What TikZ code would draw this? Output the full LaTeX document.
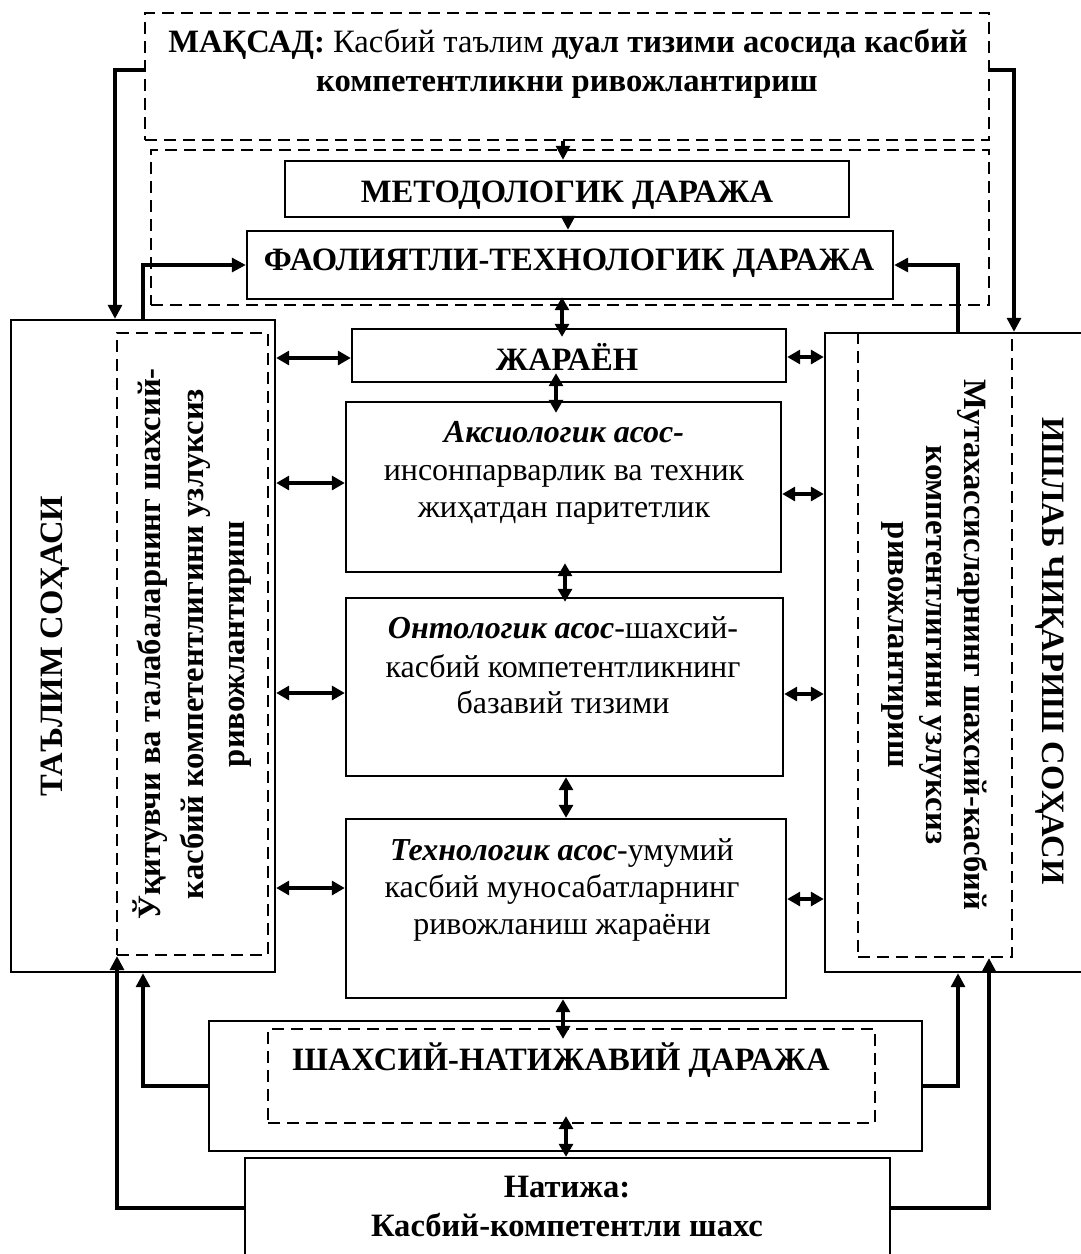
\documentclass[tikz,border=0pt]{standalone}
\usepackage{fontspec}
\setmainfont{Liberation Serif}
\usetikzlibrary{arrows.meta,fit,calc}
\begin{document}
\begin{tikzpicture}[x=0.5pt,y=-0.5pt,
  solidbox/.style={draw, line width=1.2pt, inner sep=0pt},
  dashbox/.style={draw, line width=1.1pt, dash pattern=on 6pt off 3.5pt, inner sep=0pt},
  arr/.style={line width=1.6pt, -{Triangle[length=7pt,width=7pt]}},
  darr/.style={line width=1.6pt, {Triangle[length=6.5pt,width=7pt]}-{Triangle[length=6.5pt,width=7pt]}},
  btxt/.style={font=\fontsize{16.3}{19}\selectfont\bfseries, inner sep=0pt, anchor=base},
  ctxt/.style={font=\fontsize{16}{19}\selectfont, inner sep=0pt, anchor=base},
]
\useasboundingbox (0,0) rectangle (1081,1254);
\clip (0,0) rectangle (1081,1254);

% boxes
\node[dashbox, fit={(145,13) (989,140)}] (maqsad) {};
\node[dashbox, fit={(151,150) (989,305)}] (levels) {};
\node[solidbox, fill=white, fit={(285,161) (849,217)}] (metod) {};
\node[solidbox, fill=white, fit={(247,231) (893,299)}] (faol) {};
\node[solidbox, fit={(11,320) (275,972)}] (leftbox) {};
\node[dashbox, fit={(117,333) (268,955)}] (leftin) {};
\node[solidbox, fit={(825,333) (1120,972)}] (rightbox) {};
\node[dashbox, fit={(858,333) (1012,957)}] (rightin) {};
\node[solidbox, fit={(352,329) (786,382)}] (jar) {};
\node[solidbox, fit={(346,402) (781,572)}] (aks) {};
\node[solidbox, fit={(346,598) (783,776)}] (ont) {};
\node[solidbox, fit={(346,819) (786,998)}] (tex) {};
\node[solidbox, fit={(209,1021) (922,1151)}] (shaxout) {};
\node[dashbox, fit={(268,1029) (875,1123)}] (shaxin) {};
\node[solidbox, fit={(245,1158) (890,1300)}] (natija) {};

% texts
\node[btxt] (tm1) at (568,52) {МАҚСАД: {\mdseries Касбий таълим} дуал тизими асосида касбий};
\node[btxt] (tm2) at (567,91) {компетентликни ривожлантириш};
\node[btxt] (tmet) at (567,202) {МЕТОДОЛОГИК ДАРАЖА};
\node[btxt] (tfaol) at (569,270) {ФАОЛИЯТЛИ-ТЕХНОЛОГИК ДАРАЖА};
\node[btxt] (tjar) at (567,370) {ЖАРАЁН};
\node[ctxt] (ta1) at (564,442) {{\bfseries\itshape Аксиологик асос-}};
\node[ctxt] (ta2) at (564,480) {инсонпарварлик ва техник};
\node[ctxt] (ta3) at (564,517) {жиҳатдан паритетлик};
\node[ctxt] (to1) at (563,638) {{\bfseries\itshape Онтологик асос}-шахсий-};
\node[ctxt] (to2) at (563,677) {касбий компетентликнинг};
\node[ctxt] (to3) at (563,713) {базавий тизими};
\node[ctxt] (tt1) at (562,860) {{\bfseries\itshape Технологик асос}-умумий};
\node[ctxt] (tt2) at (562,897) {касбий муносабатларнинг};
\node[ctxt] (tt3) at (562,934) {ривожланиш жараёни};
\node[btxt] (tsh) at (561,1070) {ШАХСИЙ-НАТИЖАВИЙ ДАРАЖА};
\node[btxt] (tn1) at (567,1197) {Натижа:};
\node[btxt] (tn2) at (567,1236) {Касбий-компетентли шахс};
\node[btxt, rotate=90] (tl) at (62,646) {ТАЪЛИМ СОҲАСИ};
\node[btxt, rotate=90] (tl1) at (160,644) {Ўқитувчи ва талабаларнинг шахсий-};
\node[btxt, rotate=90] (tl2) at (203,644) {касбий компетентлигини узлуксиз};
\node[btxt, rotate=90] (tl3) at (244,644) {ривожлантириш};
\node[btxt, rotate=-90] (tr) at (1042,651) {ИШЛАБ ЧИҚАРИШ СОҲАСИ};
\node[btxt, rotate=-90] (tr1) at (964,645) {Мутахассисларнинг шахсий-касбий};
\node[btxt, rotate=-90] (tr2) at (926,645) {компетентлигини узлуксиз};
\node[btxt, rotate=-90] (tr3) at (888,645) {ривожлантириш};

% helper coordinates
\coordinate (c1) at (115,70);
\coordinate (c2) at (143,266);
\coordinate (c3) at (1014,70);
\coordinate (c4) at (958,266);
\coordinate (c5) at (143,1086);
\coordinate (c6) at (117,1208);
\coordinate (c7) at (958,1086);
\coordinate (c8) at (989,1208);
\coordinate (xa) at (563,0);
\coordinate (xb) at (568,0);
\coordinate (xc) at (562,0);
\coordinate (xd) at (556,0);
\coordinate (xe) at (565,0);
\coordinate (xf) at (566,0);
\coordinate (ya) at (0,358);
\coordinate (yb) at (0,483);
\coordinate (yc) at (0,693);
\coordinate (yd) at (0,888);
\coordinate (ye) at (0,357);
\coordinate (yf) at (0,494);
\coordinate (yg) at (0,694);
\coordinate (yh) at (0,899);

% connectors
\draw[arr] (maqsad.south -| xa) -- (metod.north -| xa);
\draw[arr] (metod.south -| xb) -- (faol.north -| xb);
\draw[darr] ($(faol.south -| xc)+(0,-3)$) -- ($(jar.north -| xc)+(0,9)$);
\draw[darr] ($(jar.south -| xd)+(0,-10)$) -- ($(aks.north -| xd)+(0,12)$);
\draw[darr] ($(aks.south -| xe)+(0,-10)$) -- ($(ont.north -| xe)+(0,5)$);
\draw[darr] (ont.south -| xf) -- (tex.north -| xf);
\draw[darr] (tex.south -| xa) -- ($(shaxin.north -| xa)+(0,11)$);
\draw[darr] ($(shaxin.south -| xf)+(0,-8)$) -- (natija.north -| xf);

\draw[arr] (maqsad.west |- c1) -| (leftbox.north -| c1);
\draw[arr] (leftbox.north -| c2) |- (faol.west);
\draw[arr] (maqsad.east |- c3) -| (rightbox.north -| c3);
\draw[arr] (rightbox.north -| c4) |- (faol.east);

\draw[darr] (leftbox.east |- ya) -- (jar.west |- ya);
\draw[darr] (leftbox.east |- yb) -- (aks.west |- yb);
\draw[darr] (leftbox.east |- yc) -- (ont.west |- yc);
\draw[darr] (leftbox.east |- yd) -- (tex.west |- yd);
\draw[darr] (jar.east |- ye) -- (rightbox.west |- ye);
\draw[darr] (aks.east |- yf) -- (rightbox.west |- yf);
\draw[darr] (ont.east |- yg) -- (rightbox.west |- yg);
\draw[darr] (tex.east |- yh) -- (rightbox.west |- yh);

\draw[arr] (shaxout.west |- c5) -| (leftbox.south -| c5);
\draw[arr] (natija.west |- c6) -| (leftin.south -| c6);
\draw[arr] (shaxout.east |- c7) -| (rightbox.south -| c7);
\draw[arr] (natija.east |- c8) -| (rightin.south -| c8);
\end{tikzpicture}
\end{document}
